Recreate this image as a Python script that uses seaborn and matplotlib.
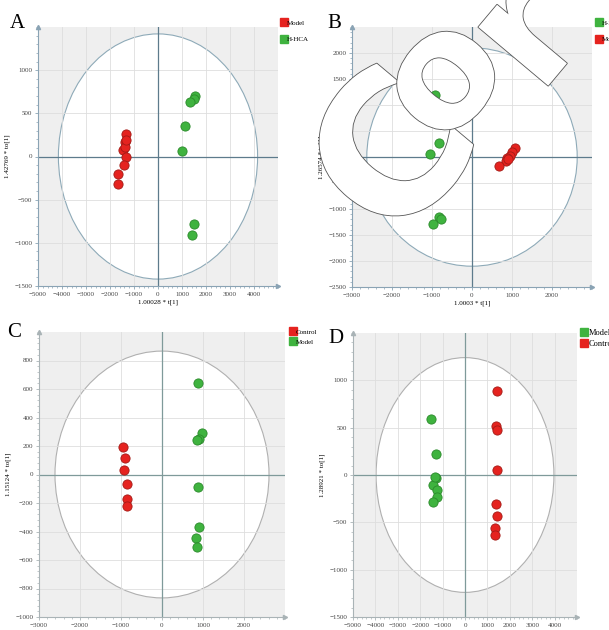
import numpy as np
import pandas as pd
import seaborn as sns
import matplotlib.pyplot as plt
from matplotlib.patches import Ellipse
from matplotlib.lines import Line2D
from matplotlib.ticker import AutoMinorLocator
import matplotlib.patheffects as pe

# colours
RED = '#e5231f'
GREEN = '#3fb33f'
EDGE = {RED: '#a31a16', GREEN: '#2b8a2b'}

############
# DATA
############
# panel A
a_model_x = [-1314, -1384, -1468, -1356, -1314, -1426, -1679, -1679, -1330]
a_model_y = [262, 165, 77, 108, -8, -104, -200, -315, 190]
a_hhca_x = [1562, 1520, 1338, 1141, 1001, 1520, 1422]
a_hhca_y = [704, 665, 627, 358, 62, -785, -904]

# panel B
b_hhca_x = [-916, -899, -815, -1042, -815, -773, -966]
b_hhca_y = [1188, 1010, 275, 51, -1163, -1195, -1291]
b_model_x = [1076, 992, 950, 866, 840, 672, 908]
b_model_y = [179, 102, 19, -13, -77, -173, -45]

# panel C
c_control_x = [-962, -905, -921, -864, -848, -848]
c_control_y = [191, 115, 33, -66, -172, -219]
c_model_x = [872, 970, 913, 848, 872, 913, 831, 848]
c_model_y = [645, 289, 247, 240, -89, -369, -447, -506]

# panel D
d_model_x = [-1514, -1304, -1289, -1409, -1259, -1259, -1409, -1334]
d_model_y = [592, 225, -32, -102, -155, -232, -285, -21]
d_control_x = [1439, 1394, 1409, 1439, 1394, 1409, 1319, 1319]
d_control_y = [887, 514, 479, 49, -310, -437, -556, -630]


def make_df(groups):
    rows = []
    for name, xs, ys in groups:
        for x, y in zip(xs, ys):
            rows.append({'group': name, 'x': x, 'y': y})
    return pd.DataFrame(rows)


############
# PLOT HELPERS
############
def setup_axes(ax, xlim, ylim, xstep, ystep, rx, ry, zcol, ecol, scol):
    ax.set_facecolor('#efefef')
    ax.set_xlim(xlim)
    ax.set_ylim(ylim)
    ax.add_patch(Ellipse((0, 0), 2 * rx, 2 * ry, facecolor='white',
                         edgecolor=ecol, lw=0.8, zorder=0.2))
    ax.set_axisbelow(True)
    ax.grid(True, color='#dedede', lw=0.6)
    ax.axhline(0, color=zcol, lw=0.9, zorder=1)
    ax.axvline(0, color=zcol, lw=0.9, zorder=1)
    ax.set_xticks(np.arange(xlim[0], xlim[1], xstep))
    ax.set_yticks(np.arange(ylim[0], ylim[1], ystep))
    ax.xaxis.set_minor_locator(AutoMinorLocator(5))
    ax.yaxis.set_minor_locator(AutoMinorLocator(5))
    for s in ['top', 'right']:
        ax.spines[s].set_visible(False)
    for s in ['left', 'bottom']:
        ax.spines[s].set_color(scol)
        ax.spines[s].set_linewidth(0.8)
    ax.tick_params(which='major', length=2.5, width=0.6, color=scol,
                   labelsize=5, labelcolor='#444444', pad=1.5)
    ax.tick_params(which='minor', length=1.5, width=0.5, color=scol)
    for lab in ax.get_xticklabels() + ax.get_yticklabels():
        lab.set_family('Liberation Serif')
    # arrows at axis ends
    ax.plot(1, 0, '>', color=scol, ms=3, transform=ax.transAxes, clip_on=False)
    ax.plot(0, 1, '^', color=scol, ms=3, transform=ax.transAxes, clip_on=False)


def draw_points(ax, df, pal):
    for name, col in pal.items():
        sub = df[df['group'] == name]
        sns.scatterplot(data=sub, x='x', y='y', color=col, s=44, linewidth=0.6,
                        edgecolor=EDGE[col], legend=False, ax=ax, zorder=3)


def add_legend(fig, x, y, pal, spacing, size=5):
    handles = [Line2D([0], [0], marker='s', ls='none', ms=6, mfc=c, mec=c)
               for c in pal.values()]
    fig.legend(handles, list(pal.keys()), loc='upper left', bbox_to_anchor=(x, y),
               frameon=False, handletextpad=0.1, handlelength=0.8,
               labelspacing=spacing, borderpad=0, borderaxespad=0,
               prop={'family': 'Liberation Serif', 'size': size})


############
# FIGURE
############
fig = plt.figure(figsize=(6.09, 6.30), dpi=100)
W, H = 609, 630


def add_ax(l, t, r, b):
    return fig.add_axes([l / W, 1 - b / H, (r - l) / W, (b - t) / H])


lab_kw = dict(fontsize=5, family='Liberation Serif')

# A
pal_a = {'Model': RED, 'H-HCA': GREEN}
axA = add_ax(38, 27, 278, 286)
setup_axes(axA, (-5000, 5000), (-1500, 1500), 1000, 500, 4150, 1420,
           '#5d7b8c', '#8eaab8', '#8aa3b4')
draw_points(axA, make_df([('Model', a_model_x, a_model_y),
                          ('H-HCA', a_hhca_x, a_hhca_y)]), pal_a)
axA.set_xlabel('1.00028 * t[1]', labelpad=2, **lab_kw)
axA.set_ylabel('1.42769 * to[1]', labelpad=3, **lab_kw)

# B
pal_b = {'H-HCA': GREEN, 'Model': RED}
axB = add_ax(352, 27, 592, 287)
setup_axes(axB, (-3000, 3000), (-2500, 2500), 1000, 500, 2630, 2100,
           '#5d7b8c', '#8eaab8', '#8aa3b4')
draw_points(axB, make_df([('H-HCA', b_hhca_x, b_hhca_y),
                          ('Model', b_model_x, b_model_y)]), pal_b)
axB.set_xlabel('1.0003 * t[1]', labelpad=2, **lab_kw)
axB.set_ylabel('1.26574 * to[1]', labelpad=3, **lab_kw)

# C
pal_c = {'Control': RED, 'Model': GREEN}
axC = add_ax(39, 332, 285, 617)
setup_axes(axC, (-3000, 3000), (-1000, 1000), 1000, 200, 2610, 866,
           '#7f9a9a', '#b0b0b0', '#a9b3b6')
draw_points(axC, make_df([('Control', c_control_x, c_control_y),
                          ('Model', c_model_x, c_model_y)]), pal_c)
axC.set_xlabel('')
axC.set_ylabel('1.15124 * to[1]', labelpad=3, **lab_kw)

# D
pal_d = {'Model': GREEN, 'Control': RED}
axD = add_ax(353, 333, 577, 617)
setup_axes(axD, (-5000, 5000), (-1500, 1500), 1000, 500, 3970, 1240,
           '#7f9a9a', '#b0b0b0', '#a9b3b6')
draw_points(axD, make_df([('Model', d_model_x, d_model_y),
                          ('Control', d_control_x, d_control_y)]), pal_d)
axD.set_xlabel('')
axD.set_ylabel('1.28921 * to[1]', labelpad=3, **lab_kw)

# legends
add_legend(fig, 281 / W, 1 - 20 / H, pal_a, 1.5)
add_legend(fig, 596 / W, 1 - 20 / H, pal_b, 1.5)
add_legend(fig, 290 / W, 1 - 329 / H, pal_c, 0.6)
add_legend(fig, 581 / W, 1 - 329 / H, pal_d, 0.3, size=6)

# panel letters
for lab, x, y in [('A', 10, 28), ('B', 327, 28), ('C', 7, 337), ('D', 328, 343)]:
    fig.text(x / W, 1 - y / H, lab, fontsize=15, family='Liberation Serif')

# watermark letters (scan overlay)
wm = dict(rotation=50, family='DejaVu Sans', weight='bold', color='white',
          ha='center', va='center', zorder=10,
          path_effects=[pe.withStroke(linewidth=1.2, foreground='#555555')])
for ch, x, y, fs in [('C', 400, 160, 140), ('o', 445, 80, 115), ('r', 530, 35, 120)]:
    fig.text(x / W, 1 - y / H, ch, fontsize=fs, **wm)

fig.savefig('out.png', dpi=100)
